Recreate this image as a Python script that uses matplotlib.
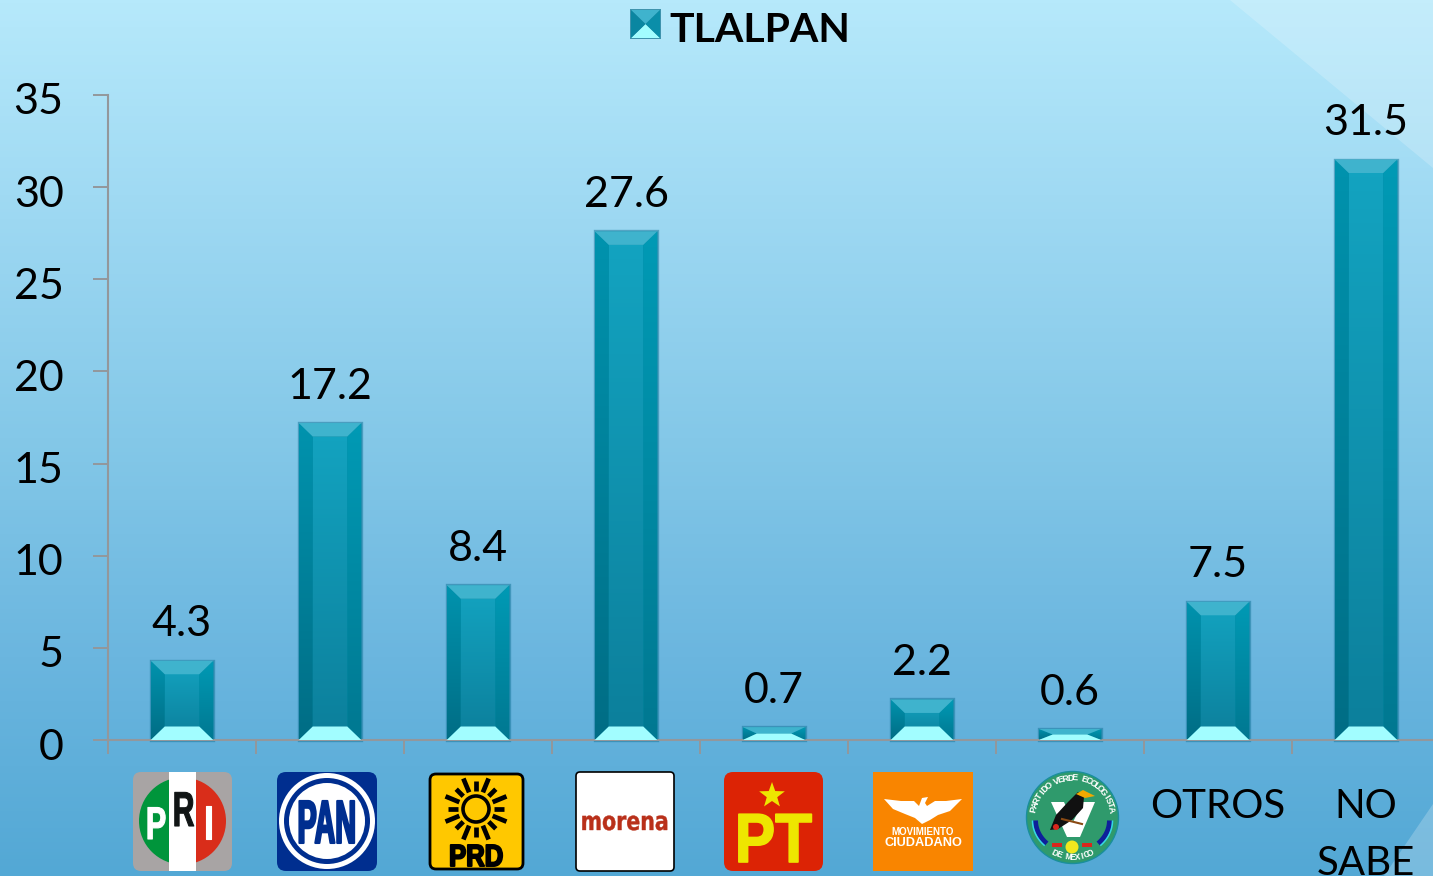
import numpy as np
import matplotlib
matplotlib.use("Agg")
import matplotlib.pyplot as plt
from matplotlib.patches import Polygon, Circle, FancyBboxPatch, Rectangle, Wedge
from matplotlib.transforms import ScaledTranslation, Affine2D
from matplotlib.patheffects import AbstractPathEffect

categories = ["PRI", "PAN", "PRD", "morena", "PT", "MC", "PVEM", "OTROS", "NO\nSABE"]
values = [4.3, 17.2, 8.4, 27.6, 0.7, 2.2, 0.6, 7.5, 31.5]
value_labels = ["4.3", "17.2", "8.4", "27.6", "0.7", "2.2", "0.6", "7.5", "31.5"]
y_ticks = [0, 5, 10, 15, 20, 25, 30, 35]
title_text = "TLALPAN"

W, H = 1433, 876
FONT = "Lato"
LOGO = "Liberation Sans"
fig = plt.figure(figsize=(W / 100, H / 100), dpi=100)


class Squeeze(AbstractPathEffect):
    """Reshapes a text's glyphs about their centre and baseline, for the condensed logo lettering."""

    def __init__(self, sx, stroke=0.0, sy=1.0):
        super().__init__()
        self.sx, self.stroke, self.sy = sx, stroke, sy

    def draw_path(self, renderer, gc, tpath, affine, rgbFace=None):
        xs = tpath.vertices[:, 0]
        c = (xs.min() + xs.max()) / 2
        tr = Affine2D().translate(-c, 0).scale(self.sx, self.sy).translate(c, 0) + affine
        gc0 = renderer.new_gc()
        gc0.copy_properties(gc)
        if self.stroke > 0 and rgbFace is not None:
            gc0.set_linewidth(self.stroke)
            gc0.set_foreground(rgbFace)
        else:
            gc0.set_linewidth(0)
        renderer.draw_path(gc0, tpath, tr, rgbFace)
        gc0.restore()


# ---------- background ----------
bg = fig.add_axes([0, 0, 1, 1], zorder=0)
bg.set_axis_off()
stops_y = [0, 0.25, 0.5, 0.75, 1.0]
stops_c = np.array([[0xb6, 0xe9, 0xfb], [0x9d, 0xd8, 0xf2], [0x84, 0xc8, 0xe8], [0x6b, 0xb6, 0xdf], [0x53, 0xa8, 0xd5]]) / 255
ys = np.linspace(0, 1, 256)
grad = np.stack([np.interp(ys, stops_y, stops_c[:, i]) for i in range(3)], axis=1)[:, None, :]
bg.imshow(grad, extent=[0, W, H, 0], aspect="auto")
bg.add_patch(Polygon([[1230, 0], [W, 0], [W, 168]], fc="white", alpha=0.20, lw=0))
bg.add_patch(Polygon([[W, 804], [W, H], [1384, H]], fc="white", alpha=0.22, lw=0))
bg.set_xlim(0, W); bg.set_ylim(H, 0)

# ---------- data axes ----------
X0, X_END, Y0, Y35 = 108, W, 740, 95
PX_X, PX_Y = 148.0, (Y0 - Y35) / 35.0
ax = fig.add_axes([X0 / W, 1 - Y0 / H, (X_END - X0) / W, (Y0 - Y35) / H], zorder=1)
ax.patch.set_alpha(0)
xlim = (-0.5, -0.5 + (X_END - X0) / PX_X)
AXC = "#93979b"
for s in ("top", "right"):
    ax.spines[s].set_visible(False)
for s in ("left", "bottom"):
    ax.spines[s].set_color(AXC)
    ax.spines[s].set_linewidth(1.5)
ax.set_xticks(np.arange(len(categories)) - 0.5)
ax.set_xticklabels([])
ax.tick_params(axis="x", length=10, width=1.4, color=AXC)
ax.set_yticks(y_ticks)
ax.set_yticklabels([str(t) for t in y_ticks], fontsize=31, family=FONT, color="black")
ax.tick_params(axis="y", length=10.5, width=1.4, color=AXC, pad=21.5)
off = ScaledTranslation(0, -4 / 100, fig.dpi_scale_trans)
for lab in ax.get_yticklabels():
    lab.set_transform(lab.get_transform() + off)


def vgrad(c_top, c_bot):
    a = np.array(matplotlib.colors.to_rgb(c_top))
    b = np.array(matplotlib.colors.to_rgb(c_bot))
    t = np.linspace(0, 1, 128)[:, None]
    return (a * (1 - t) + b * t)[:, None, :]


def bevel(target, x0, x1, y0, y1, bx, by, z=3):
    """Draws a bevelled box between x0..x1, y0(bottom)..y1(top)."""
    left = [[x0, y0], [x0, y1], [x0 + bx, y1 - by], [x0 + bx, y0 + by]]
    right = [[x1, y0], [x1, y1], [x1 - bx, y1 - by], [x1 - bx, y0 + by]]
    mid = [[x0 + bx, y0 + by], [x0 + bx, y1 - by], [x1 - bx, y1 - by], [x1 - bx, y0 + by]]
    top = [[x0, y1], [x1, y1], [x1 - bx, y1 - by], [x0 + bx, y1 - by]]
    bot = [[x0, y0], [x1, y0], [x1 - bx, y0 + by], [x0 + bx, y0 + by]]
    ext = [x0, x1, y0, y1]
    for poly, (ct, cb) in ((mid, ("#13a4c1", "#0c7f9b")), (left, ("#0093ae", "#006d85")),
                           (right, ("#009ab5", "#007891"))):
        p = Polygon(poly, fc="none", lw=0, zorder=z)
        target.add_patch(p)
        im = target.imshow(vgrad(ct, cb), extent=ext, aspect="auto", zorder=z, origin="upper")
        im.set_clip_path(p)
    target.add_patch(Polygon(top, fc="#3fb3cd", lw=0, zorder=z + 0.1))
    target.add_patch(Polygon(bot, fc="#a2fdff", lw=0, zorder=z + 0.1))


BAR_W = 62.5 / PX_X
BX = 14 / PX_X
for i, v in enumerate(values):
    ax.bar(i, v, width=BAR_W, color="#0b8fab", edgecolor=(0.10, 0.48, 0.62, 0.55), linewidth=2.4, zorder=2, clip_on=False)
    hpx = v * PX_Y
    by = min(13.5, hpx / 2) / PX_Y
    bevel(ax, i - BAR_W / 2, i + BAR_W / 2, 0, v, BX, by)
    ax.annotate(value_labels[i], (i, v), xytext=(0, 17.5), textcoords="offset points",
                ha="center", va="baseline", fontsize=31, family=FONT, color="black", zorder=5)

ax.set_xlim(*xlim)
ax.set_ylim(0, 35)

# ---------- overlay in figure pixels: title, legend key, category logos ----------
ov = fig.add_axes([0, 0, 1, 1], zorder=2)
ov.set_axis_off()
ov.patch.set_alpha(0)


def rbox(x0, y0, x1, y1, r, **kw):
    p = FancyBboxPatch((x0 + r, y0 + r), x1 - x0 - 2 * r, y1 - y0 - 2 * r,
                       boxstyle=f"round,pad={r},rounding_size={r}", **kw)
    ov.add_patch(p)
    return p


def logo_text(x, y, s, color, size, sx, stroke=0.0, family=LOGO, sy=1.0):
    t = ov.text(x, y, s, color=color, fontsize=size, fontweight="bold", family=family, ha="center", va="baseline")
    t.set_path_effects([Squeeze(sx, stroke, sy)])
    return t


# title and key
ov.text(760, 42, title_text, ha="center", va="baseline", fontsize=29.5, fontweight="bold", family=FONT, color="black")
ov.add_patch(Rectangle((630, 9), 31, 30, fc="#3f93ad", lw=0))
ov.add_patch(Polygon([[631, 10], [660, 10], [645.5, 24]], fc="#3fb3cd", lw=0))
ov.add_patch(Polygon([[631, 38], [660, 38], [645.5, 24]], fc="#a2fdff", lw=0))
ov.add_patch(Polygon([[631, 10], [631, 38], [645.5, 24]], fc="#0a86a1", lw=0))
ov.add_patch(Polygon([[660, 10], [660, 38], [645.5, 24]], fc="#0a8ea9", lw=0))

# PRI
rbox(133, 772, 232, 871, 8, fc="#a8a4a4", lw=0)
ov.add_patch(Wedge((182.5, 821), 43.5, 90, 270, fc="#00953b", lw=0))
ov.add_patch(Wedge((182.5, 821), 43.5, -90, 90, fc="#d92d1a", lw=0))
ov.add_patch(Rectangle((169, 772), 27, 99, fc="white", lw=0))
logo_text(156, 839, "P", "white", 22, 1.0, 0.8, sy=1.5)
logo_text(183.5, 826, "R", "#111515", 22, 0.98, 0.8, sy=1.6)
logo_text(208.5, 839, "I", "white", 22, 1.05, 0.8, sy=1.55)

# PAN
rbox(277, 772, 377, 871, 9, fc="#002e8f", lw=0)
ov.add_patch(Circle((327, 821), 48, fc="white", lw=0))
ov.add_patch(Circle((327, 821), 43, fc="#002e8f", lw=0))
ov.add_patch(Circle((327, 821), 38, fc="white", lw=0))
logo_text(328, 843, "PAN", "#002e8f", 44, 0.47, 1.5)

# PRD
rbox(430, 774, 523, 869, 6, fc="#ffc800", ec="black", lw=2)
ov.add_patch(Circle((476, 809), 13, fc="#ffc800", ec="black", lw=2.6))
for k, a in enumerate(np.deg2rad(np.arange(0, 360, 22.5))):
    r0, r1 = (18, 28) if k % 2 == 0 else (18, 33)
    ov.plot([476 + r0 * np.cos(a), 476 + r1 * np.cos(a)], [809 + r0 * np.sin(a), 809 + r1 * np.sin(a)],
            color="black", lw=3.4, solid_capstyle="butt")
logo_text(476, 866, "PRD", "black", 22, 0.84, 1.4)

# morena
rbox(576, 772, 674, 871, 4, fc="white", ec="black", lw=1.2)
logo_text(625, 830, "morena", "#b9301a", 18.5, 0.80, 0.3, "DejaVu Sans")

# PT
rbox(724, 772, 823, 871, 9, fc="#dc2305", lw=0)
ang = np.deg2rad(90 + 36 * np.arange(10))
rad = np.where(np.arange(10) % 2 == 0, 13.5, 5.5)
ov.add_patch(Polygon(np.c_[772 - rad * np.cos(ang), 795.5 - rad * np.sin(ang)], fc="#eee600", lw=0))
logo_text(773.5, 862, "PT", "#eee600", 50, 0.87, 1.2)

# Movimiento Ciudadano
ov.add_patch(Rectangle((873, 772), 100, 99, fc="#f98500", lw=0))
ov.add_patch(Polygon([[884, 799], [901, 801], [914, 801], [919, 806], [922, 798], [928, 797], [925, 803],
                      [927, 806], [935, 801], [946, 801], [962, 799], [950, 811], [938, 815], [930, 820],
                      [922, 824], [915, 818], [905, 814], [893, 809]], fc="white", lw=0))
ov.text(923, 835, "MOVIMIENTO", color="white", fontsize=7, fontweight="bold", family=LOGO, ha="center", va="baseline")
ov.text(923, 845.5, "CIUDADANO", color="white", fontsize=9.2, fontweight="bold", family=LOGO, ha="center", va="baseline")

# Partido Verde
CX, CY, R = 1072.5, 817.5, 46
ov.add_patch(Circle((CX, CY), R, fc="#2f9a6c", ec="#1a8f9c", lw=1))
arc = np.deg2rad(np.linspace(0, 46, 24))
for sgn in (-1, 1):
    ov.plot(CX + sgn * 37 * np.cos(arc), CY + 3 + 32 * np.sin(arc), color="#0e1f9a", lw=3.6, solid_capstyle="butt")
    ov.plot(CX + sgn * 40 * np.cos(arc), CY + 3 + 35 * np.sin(arc), color="#35d6e6", lw=1.1, solid_capstyle="butt")
    ov.add_patch(Rectangle((CX + sgn * 15 - 5, 843), 10, 4, fc="#d8261c", lw=0))
ov.add_patch(Polygon([[1051, 802], [1064, 802], [1073, 822], [1083, 802], [1095, 802], [1080, 837], [1067, 837]], fc="white", lw=0))
ov.add_patch(Circle((1072, 847), 6.5, fc="#f0e81e", lw=0))
ov.add_patch(Polygon([[1050, 830], [1056, 815], [1068, 802], [1078, 792], [1084, 797], [1083, 808], [1072, 820], [1058, 829]], fc="#111111", lw=0))
ov.add_patch(Polygon([[1076, 794], [1083, 790], [1095, 796], [1085, 798]], fc="#f2a900", lw=0))
ov.plot([1062, 1082], [819, 824], color="#8a4a14", lw=1.5)
ov.add_patch(Circle((1056, 827), 3, fc="#d8261c", lw=0))
top_txt = "PARTIDO VERDE ECOLOGISTA"
for ch, a in zip(top_txt, np.linspace(168, 12, len(top_txt))):
    t = np.deg2rad(a)
    ov.text(CX + 39.5 * np.cos(t), CY - 39.5 * np.sin(t), ch, color="white", fontsize=6.6, fontweight="bold",
            family=LOGO, ha="center", va="center", rotation=a - 90, rotation_mode="anchor")
low_txt = "DE MEXICO"
for ch, a in zip(low_txt, np.linspace(243, 297, len(low_txt))):
    t = np.deg2rad(a)
    ov.text(CX + 40 * np.cos(t), CY - 40 * np.sin(t), ch, color="white", fontsize=6.2, fontweight="bold",
            family=LOGO, ha="center", va="center", rotation=a - 270, rotation_mode="anchor")

# text categories
for i, c in enumerate(categories):
    if c in ("OTROS", "NO\nSABE"):
        px = X0 + (i + 0.5) * PX_X
        for j, part in enumerate(c.split("\n")):
            ov.text(px, 818 + j * 57, part, ha="center", va="baseline", fontsize=29, family=FONT, color="black", clip_on=False)

ov.set_xlim(0, W)
ov.set_ylim(H, 0)

fig.savefig("out.png", dpi=100)
